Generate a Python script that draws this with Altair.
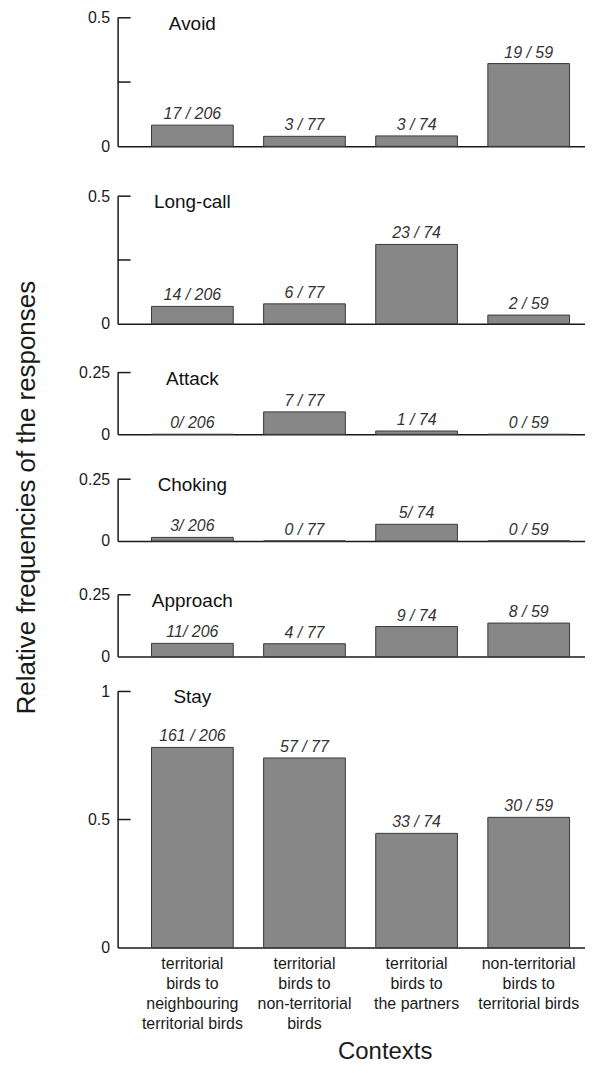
import altair as alt
import pandas as pd

FONT = "Liberation Sans"

categories = [
    "territorial|birds to|neighbouring|territorial birds",
    "territorial|birds to|non-territorial|birds",
    "territorial|birds to|the partners",
    "non-territorial|birds to|territorial birds",
]
totals = [206, 77, 74, 59]

avoid_counts = [17, 3, 3, 19]
avoid_labels = ["17 / 206", "3 / 77", "3 / 74", "19 / 59"]
longcall_counts = [14, 6, 23, 2]
longcall_labels = ["14 / 206", "6 / 77", "23 / 74", "2 / 59"]
attack_counts = [0, 7, 1, 0]
attack_labels = ["0/ 206", "7 / 77", "1 / 74", "0 / 59"]
choking_counts = [3, 0, 5, 0]
choking_labels = ["3/ 206", "0 / 77", "5/ 74", "0 / 59"]
approach_counts = [11, 4, 9, 8]
approach_labels = ["11/ 206", "4 / 77", "9 / 74", "8 / 59"]
stay_counts = [161, 57, 33, 30]
stay_labels = ["161 / 206", "57 / 77", "33 / 74", "30 / 59"]

DARK = "#1a1a1a"
W = 469


def panel(name, counts, labels, ymax, label_vals, tick_vals, height,
          bottom=False, ytitle=False):
    df = pd.DataFrame({
        "context": categories,
        "value": [c / t for c, t in zip(counts, totals)],
        "label": labels,
    })
    xscale = alt.Scale(domain=categories, paddingInner=0.271,
                       paddingOuter=0.22, align=0.687)
    if bottom:
        xaxis = alt.Axis(title="Contexts", labelExpr="split(datum.label, '|')",
                         labelAngle=0, labelFontSize=16, labelLineHeight=20,
                         labelPadding=8, labelColor=DARK, labelFont=FONT,
                         ticks=False, domainColor=DARK, domainWidth=1.5,
                         titleFontSize=24, titleFont=FONT, titleFontWeight="normal",
                         titleColor=DARK, titleX=268, titleY=111,
                         titleAlign="center", titleBaseline="alphabetic")
    else:
        xaxis = alt.Axis(title=None, labels=False, ticks=False,
                         domainColor=DARK, domainWidth=1.5)
    common = dict(values=label_vals, labelExpr="'' + datum.value", ticks=False,
                  grid=False, domainColor=DARK, domainWidth=1.5, labelFontSize=16,
                  labelFont=FONT, labelColor=DARK, labelPadding=8)
    if ytitle:
        yaxis = alt.Axis(title="Relative frequencies of the responses",
                         titleFont=FONT, titleFontSize=26, titleFontWeight="normal",
                         titleColor=DARK, titleX=-91, titleY=125, titleAngle=270,
                         titleAlign="center", titleBaseline="middle", **common)
    else:
        yaxis = alt.Axis(title=None, **common)
    yscale = alt.Scale(domain=[0, ymax], nice=False)
    xenc = alt.X("context:N", scale=xscale, axis=xaxis, sort=categories)

    base = alt.Chart(df)
    bars = base.mark_bar(color="#878787", stroke="#3a3a3a", strokeWidth=1).encode(
        x=xenc, y=alt.Y("value:Q", scale=yscale, axis=yaxis))
    text = base.mark_text(font=FONT, fontStyle="italic", fontSize=16,
                          baseline="alphabetic", dy=-6, color="#333333").encode(
        x=xenc, y=alt.Y("value:Q", scale=yscale, axis=yaxis), text="label:N")
    ticks = alt.Chart(pd.DataFrame({"value": tick_vals})).mark_rule(
        color=DARK, strokeWidth=1.5).encode(
        y=alt.Y("value:Q", scale=yscale, axis=yaxis),
        x=alt.value(0), x2=alt.value(13))
    title = alt.Chart(pd.DataFrame({"name": [name]})).mark_text(
        font=FONT, fontSize=19, baseline="middle", dy=6, color="#111111").encode(
        x=alt.datum(categories[0], type="nominal"), y=alt.value(0), text="name:N")
    return alt.layer(bars, text, ticks, title).properties(width=W, height=height)


def spacer(h):
    return alt.Chart(pd.DataFrame({"s": [0]})).mark_point(opacity=0).encode(
        y=alt.Y("s:Q", axis=None)).properties(width=W, height=h)


avoid = panel("Avoid", avoid_counts, avoid_labels, 0.5, [0, 0.5], [0.25, 0.5], 129)
longcall = panel("Long-call", longcall_counts, longcall_labels, 0.5, [0, 0.5], [0.25, 0.5], 128)
attack = panel("Attack", attack_counts, attack_labels, 0.25, [0, 0.25], [0.25], 62, ytitle=True)
choking = panel("Choking", choking_counts, choking_labels, 0.25, [0, 0.25], [0.25], 62)
approach = panel("Approach", approach_counts, approach_labels, 0.25, [0, 0.25], [0.25], 62)
stay = panel("Stay", stay_counts, stay_labels, 1, [0, 0.5, 1], [0.5, 1], 257, bottom=True)

chart = alt.vconcat(
    avoid, spacer(50), longcall, spacer(49), attack, spacer(45), choking,
    spacer(54), approach, spacer(35), stay,
    spacing=0, bounds="flush",
).properties(
    padding={"left": 5, "top": 0, "right": 0, "bottom": 0}
).configure_view(stroke=None)

chart.save("out.html", embed_options={"renderer": "svg", "actions": False})
